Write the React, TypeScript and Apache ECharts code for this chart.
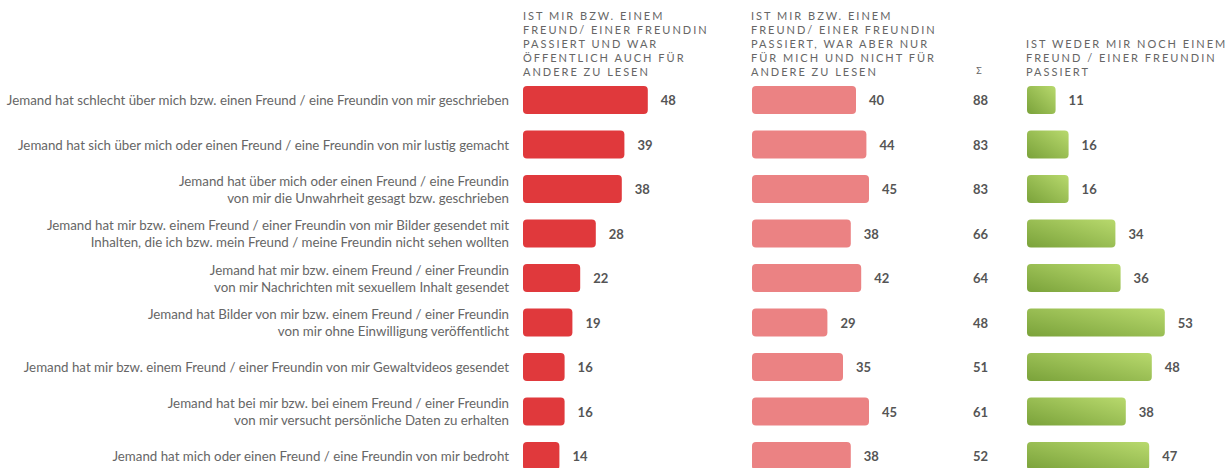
import React, { useEffect, useRef } from "react";
import * as echarts from "echarts";

const categories = [
  "Jemand hat schlecht über mich bzw. einen Freund / eine Freundin von mir geschrieben",
  "Jemand hat sich über mich oder einen Freund / eine Freundin von mir lustig gemacht",
  "Jemand hat über mich oder einen Freund / eine Freundin\nvon mir die Unwahrheit gesagt bzw. geschrieben",
  "Jemand hat mir bzw. einem Freund / einer Freundin von mir Bilder gesendet mit\nInhalten, die ich bzw. mein Freund / meine Freundin nicht sehen wollten",
  "Jemand hat mir bzw. einem Freund / einer Freundin\nvon mir Nachrichten mit sexuellem Inhalt gesendet",
  "Jemand hat Bilder von mir bzw. einem Freund / einer Freundin\nvon mir ohne Einwilligung veröffentlicht",
  "Jemand hat mir bzw. einem Freund / einer Freundin von mir Gewaltvideos gesendet",
  "Jemand hat bei mir bzw. bei einem Freund / einer Freundin\nvon mir versucht persönliche Daten zu erhalten",
  "Jemand hat mich oder einen Freund / eine Freundin von mir bedroht",
];

const publicValues = [48, 39, 38, 28, 22, 19, 16, 16, 14];
const privateValues = [40, 44, 45, 38, 42, 29, 35, 45, 38];
const sumValues = [88, 83, 83, 66, 64, 48, 51, 61, 52];
const neitherValues = [11, 16, 16, 34, 36, 53, 48, 38, 47];

const headerPublic = [
  "IST MIR BZW. EINEM",
  "FREUND/ EINER FREUNDIN",
  "PASSIERT UND WAR",
  "ÖFFENTLICH AUCH FÜR",
  "ANDERE ZU LESEN",
];
const headerPrivate = [
  "IST MIR BZW. EINEM",
  "FREUND/ EINER FREUNDIN",
  "PASSIERT, WAR ABER NUR",
  "FÜR MICH UND NICHT FÜR",
  "ANDERE ZU LESEN",
];
const headerNeither = [
  "IST WEDER MIR NOCH EINEM",
  "FREUND / EINER FREUNDIN",
  "PASSIERT",
];
const headerSum = "Σ";

const FONT = "Lato, 'Open Sans', sans-serif";
const GRID_TOP = 77.75;
const GRID_H = 400.5;
const AXIS_MAX = 60;
const BAR_W = 156;

export default function App() {
  const ref = useRef<HTMLDivElement>(null);

  useEffect(() => {
    if (!ref.current) return;
    const chart = echarts.init(ref.current, undefined, { renderer: "svg" });

    const valueLabel = {
      show: true,
      position: "right" as const,
      distance: 13,
      fontFamily: FONT,
      fontSize: 13,
      fontWeight: "bold" as const,
      color: "#555555",
    };

    const grids = [
      { left: 523, top: GRID_TOP, width: BAR_W, height: GRID_H },
      { left: 752, top: GRID_TOP, width: BAR_W, height: GRID_H },
      { left: 973, top: GRID_TOP, width: 60, height: GRID_H },
      { left: 1027, top: GRID_TOP, width: BAR_W, height: GRID_H },
    ];

    const xAxes = grids.map((_, i) => ({
      type: "value" as const,
      gridIndex: i,
      min: 0,
      max: i === 2 ? 1000 : AXIS_MAX,
      show: false,
    }));

    const yAxes = grids.map((_, i) => ({
      type: "category" as const,
      gridIndex: i,
      data: categories,
      inverse: true,
      show: i === 0,
      axisLine: { show: false },
      axisTick: { show: false },
      splitLine: { show: false },
      axisLabel: {
        show: i === 0,
        margin: 14,
        fontFamily: FONT,
        fontSize: 13.3,
        lineHeight: 17,
        color: "#666666",
        align: "right" as const,
      },
    }));

    const greenGradient = new echarts.graphic.LinearGradient(0, 1, 1, 0, [
      { offset: 0, color: "#7aa23a" },
      { offset: 1, color: "#b8d96d" },
    ]);

    const headerStyle = (text: string[], x: number, y: number) => ({
      type: "text" as const,
      x,
      y,
      style: {
        text: text.join("\n"),
        font: `11px ${FONT}`,
        fill: "#666666",
        lineHeight: 14,
        textAlign: "left" as const,
        textVerticalAlign: "top" as const,
      },
    });

    chart.setOption({
      animation: false,
      backgroundColor: "#ffffff",
      grid: grids,
      xAxis: xAxes,
      yAxis: yAxes,
      graphic: [
        headerStyle(headerPublic, 523, 8),
        headerStyle(headerPrivate, 751, 8),
        headerStyle(headerNeither, 1026, 36),
        {
          type: "text",
          x: 979,
          y: 66,
          style: {
            text: headerSum,
            font: `9px ${FONT}`,
            fill: "#666666",
            textAlign: "center",
            textVerticalAlign: "top",
          },
        },
      ],
      series: [
        {
          type: "bar",
          xAxisIndex: 0,
          yAxisIndex: 0,
          data: publicValues,
          barWidth: 28,
          itemStyle: { color: "#e0393c", borderRadius: 4 },
          label: valueLabel,
        },
        {
          type: "bar",
          xAxisIndex: 1,
          yAxisIndex: 1,
          data: privateValues,
          barWidth: 28,
          itemStyle: { color: "#eb8283", borderRadius: 4 },
          label: valueLabel,
        },
        {
          type: "bar",
          xAxisIndex: 2,
          yAxisIndex: 2,
          data: sumValues,
          barWidth: 28,
          silent: true,
          itemStyle: { color: "rgba(0,0,0,0)" },
          label: {
            show: true,
            position: "insideLeft",
            distance: 0,
            fontFamily: FONT,
            fontSize: 13,
            fontWeight: "bold",
            color: "#555555",
          },
        },
        {
          type: "bar",
          xAxisIndex: 3,
          yAxisIndex: 3,
          data: neitherValues,
          barWidth: 28,
          itemStyle: { color: greenGradient, borderRadius: 4 },
          label: valueLabel,
        },
      ],
    });

    const headerLines = new Set([...headerPublic, ...headerPrivate, ...headerNeither]);
    const applySpacing = () => {
      const root = ref.current;
      if (!root) return;
      root.querySelectorAll("text").forEach((t) => {
        if (headerLines.has((t.textContent || "").trim())) {
          t.setAttribute("letter-spacing", "2px");
        }
      });
    };
    applySpacing();
    chart.on("rendered", applySpacing);

    return () => {
      chart.dispose();
    };
  }, []);

  return (
    <div
      style={{
        position: "absolute",
        left: 0,
        top: 0,
        width: 1227,
        height: 468,
        overflow: "hidden",
      }}
    >
      <div ref={ref} style={{ width: 1227, height: 500 }} />
    </div>
  );
}
